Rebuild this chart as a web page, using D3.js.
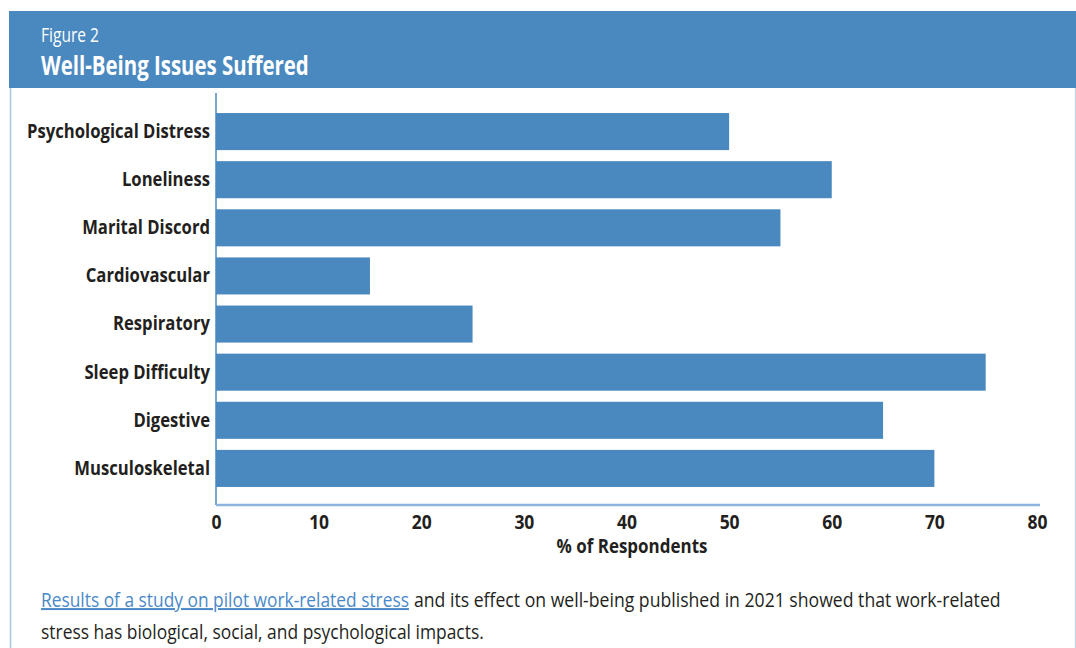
<!DOCTYPE html>
<html>
<head>
<meta charset="utf-8">
<script src="https://cdn.jsdelivr.net/npm/d3@7"></script>
<style>
  html, body { margin: 0; padding: 0; background: #fff; }
  svg { display: block; }
  text { font-family: "Open Sans", "Noto Sans", sans-serif; }
</style>
</head>
<body>
<svg id="chart" width="1076" height="648"></svg>
<script>
const categories = ["Psychological Distress", "Loneliness", "Marital Discord", "Cardiovascular", "Respiratory", "Sleep Difficulty", "Digestive", "Musculoskeletal"];
const values = [50, 60, 55, 15, 25, 75, 65, 70];
const xTicks = [0, 10, 20, 30, 40, 50, 60, 70, 80];
const figureLabel = "Figure 2";
const figureTitle = "Well-Being Issues Suffered";
const xAxisTitle = "% of Respondents";
const linkText = "Results of a study on pilot work-related stress";
const bodyLine1 = "and its effect on well-being published in 2021 showed that work-related";
const bodyLine2 = "stress has biological, social, and psychological impacts.";

const blue = "#4a89bf";
const ink = "#231f20";
const svg = d3.select("#chart");

function measure(str, size, weight) {
  const t = svg.append("text").style("font-size", size + "px").style("font-weight", weight).text(str);
  const w = t.node().getComputedTextLength();
  t.remove();
  return w;
}
// place a horizontally condensed text so that it spans the target width
function condensed(str, px, py, size, weight, target, anchor) {
  const f = target / measure(str, size, weight);
  return svg.append("g").attr("transform", `translate(${px},${py}) scale(${f},1)`)
    .append("text").attr("text-anchor", anchor || "start")
    .style("font-size", size + "px").style("font-weight", weight).text(str);
}

// frame borders
svg.append("line").attr("x1", 10.5).attr("x2", 10.5).attr("y1", 88).attr("y2", 648)
  .attr("stroke", "#a9c5e2").attr("stroke-width", 1.5);
svg.append("line").attr("x1", 1075.5).attr("x2", 1075.5).attr("y1", 88).attr("y2", 648)
  .attr("stroke", "#c9d6e3").attr("stroke-width", 1.5);

const x = d3.scaleLinear().domain([0, 80]).range([216, 1037]);
const y = d3.scaleBand().domain(categories).range([95, 505]).paddingInner(0.23).paddingOuter(0.375);

// bars
svg.append("g").selectAll("rect").data(values).join("rect")
  .attr("x", x(0))
  .attr("y", (d, i) => y(categories[i]))
  .attr("width", d => x(d) - x(0))
  .attr("height", y.bandwidth())
  .attr("fill", blue);

// y axis (horizontally condensed labels)
const labelSize = 20;
const fy = 183 / measure("Psychological Distress", labelSize, "bold");
const yAxisWrap = svg.append("g").attr("transform", `translate(${x(0) - 6},0) scale(${fy},1)`);
const yAxis = yAxisWrap.append("g").call(d3.axisLeft(y).tickSize(0).tickPadding(0));
yAxis.select(".domain").remove();
yAxis.selectAll("text")
  .style("font-size", labelSize + "px").style("font-weight", "bold").attr("fill", ink);
svg.append("line").attr("x1", x(0)).attr("x2", x(0)).attr("y1", 93).attr("y2", 505)
  .attr("stroke", blue).attr("stroke-width", 1.5);

// x axis
const tickSize = 20;
const fx = 20 / measure("80", tickSize, "bold");
const xAxis = svg.append("g").attr("transform", "translate(0,505)")
  .call(d3.axisBottom(x).tickValues(xTicks).tickSize(0).tickPadding(10).tickFormat(d3.format("d")));
xAxis.select(".domain").remove();
xAxis.selectAll("text")
  .style("font-size", tickSize + "px").style("font-weight", "bold").attr("fill", ink)
  .attr("transform", `scale(${fx},1)`);
svg.append("line").attr("x1", x(0)).attr("x2", 1040).attr("y1", 505).attr("y2", 505)
  .attr("stroke", "#8db3da").attr("stroke-width", 2.5);

condensed(xAxisTitle, 632, 553, 19, "bold", 151, "middle").attr("fill", ink);

// header
svg.append("rect").attr("x", 9).attr("y", 11).attr("width", 1067).attr("height", 77).attr("fill", blue);
condensed(figureLabel, 41, 42, 20, "normal", 58).attr("fill", "#fff");
condensed(figureTitle, 41, 75, 26, "bold", 268).attr("fill", "#fff");

// body text
condensed(linkText, 41, 607, 20, "normal", 368).attr("fill", "#4a89c8").attr("text-decoration", "underline");
condensed(bodyLine1, 414, 607, 20, "normal", 587).attr("fill", ink);
condensed(bodyLine2, 41, 639, 20, "normal", 443).attr("fill", ink);
</script>
</body>
</html>
